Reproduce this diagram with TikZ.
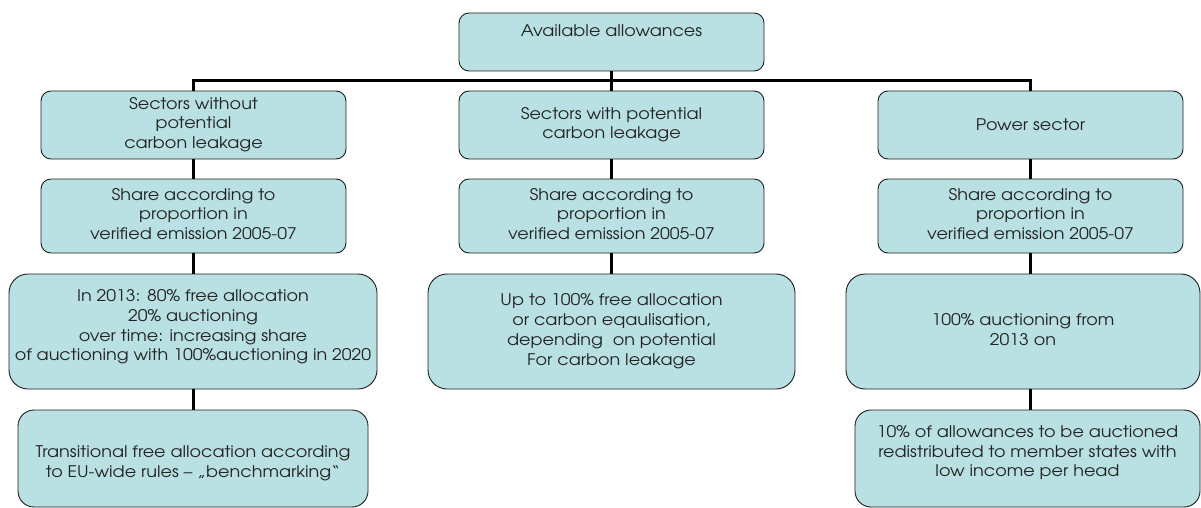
\documentclass[tikz,border=0pt]{standalone}
\usepackage{fontspec}
\setmainfont[FakeStretch=1.1]{TeX Gyre Adventor}
\definecolor{boxfill}{RGB}{185,224,227}
\definecolor{boxline}{RGB}{30,30,30}
\definecolor{txt}{RGB}{35,35,35}
\newcommand\tb[1]{\begin{tabular}{@{}c@{}}#1\end{tabular}}
\newcommand\tbr[2]{\raisebox{#1}[0pt][0pt]{\tb{#2}}}
\tikzset{
  orgbox/.style={draw=boxline, line width=0.9pt, fill=boxfill, rounded corners=#1,
    text=txt, inner sep=0pt, font=\fontsize{16}{19.8}\selectfont},
  orgbox/.default=10pt,
  link/.style={line width=3pt, black}
}
\begin{document}
\begin{tikzpicture}[x=1pt, y=-1pt]
\useasboundingbox (0,0) rectangle (1201,508);
% row 0
\node[orgbox, minimum width=305pt, minimum height=58pt] (top) at (611.5,42) {\raisebox{5.5pt}[0pt][0pt]{Available allowances}};
% row 1
\node[orgbox, minimum width=305pt, minimum height=68pt] (L1) at (193.5,125) {\tb{Sectors without\\potential\\carbon leakage}};
\node[orgbox, minimum width=305pt, minimum height=68pt] (M1) at (611.5,125) {\tb{Sectors with potential\\carbon leakage}};
\node[orgbox, minimum width=305pt, minimum height=68pt] (R1) at (1030.5,125) {Power sector};
% row 2
\node[orgbox, minimum width=305pt, minimum height=74pt] (L2) at (193.5,216) {\tb{Share according to\\proportion in\\verified emission 2005-07}};
\node[orgbox, minimum width=305pt, minimum height=74pt] (M2) at (611.5,216) {\tb{Share according to\\proportion in\\verified emission 2005-07}};
\node[orgbox, minimum width=305pt, minimum height=74pt] (R2) at (1030.5,216) {\tb{Share according to\\proportion in\\verified emission 2005-07}};
% row 3
\node[orgbox=19pt, minimum width=368pt, minimum height=115pt] (L3) at (193,331.5) {\tbr{0pt}{In 2013: 80\% free allocation\\20\% auctioning\\over time: increasing share\\of auctioning with 100\%auctioning in 2020}};
\node[orgbox=19pt, minimum width=367pt, minimum height=115pt] (M3) at (611.5,331.5) {\tb{Up to 100\% free allocation\\or carbon eqaulisation,\\depending\ \ on potential\\For carbon leakage}};
\node[orgbox=19pt, minimum width=354pt, minimum height=115pt] (R3) at (1023,331.5) {\tb{100\% auctioning from\\2013 on}};
% row 4
\node[orgbox=16pt, minimum width=350pt, minimum height=97pt] (L4) at (193,458.5) {\tbr{-9pt}{Transitional free allocation according\\to EU-wide rules -- „benchmarking“}};
\node[orgbox=16pt, minimum width=345pt, minimum height=97pt] (R4) at (1027.5,458.5) {\tbr{1pt}{10\% of allowances to be auctioned\\redistributed to member states with\\low income per head}};
% connectors
\coordinate (bus) at (611.5,81);
\draw[link] (top.south) -- (M1.north);
\draw[link] (L1.north) -- (L1.north |- bus) -- (R1.north |- bus) -- (R1.north);
\draw[link] (L1.south) -- (L2.north);
\draw[link] (M1.south) -- (M2.north);
\draw[link] (R1.south) -- (R2.north);
\draw[link] (L2.south) -- (L2.south |- L3.north);
\draw[link] (M2.south) -- (M2.south |- M3.north);
\draw[link] (R2.south) -- (R2.south |- R3.north);
\draw[link] (L3.south) -- (L3.south |- L4.north);
\draw[link] (R2.south |- R3.south) -- (R2.south |- R4.north);
\end{tikzpicture}
\end{document}
